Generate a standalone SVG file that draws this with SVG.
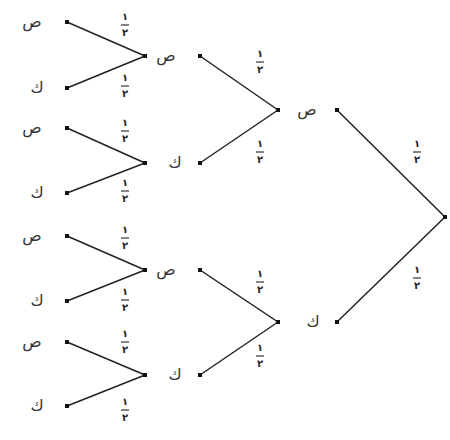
<svg xmlns="http://www.w3.org/2000/svg" width="450" height="440" viewBox="0 0 450 440">
<style>
.e{stroke:#222;stroke-width:1.5;fill:none}
.d{fill:#111}
.l{font-family:"DejaVu Sans",sans-serif;font-size:16px;fill:#333;text-anchor:middle}
.f{font-family:"DejaVu Sans",sans-serif;font-size:10px;font-weight:bold;fill:#222;text-anchor:middle}
.fl{stroke:#333;stroke-width:1.2}
</style>
<defs>
<g id="frac"><text class="f" x="0" y="-5">١</text><line class="fl" x1="-4" y1="0" x2="4" y2="0"/><text class="f" x="0" y="11">٢</text></g>
</defs>
<rect width="450" height="440" fill="#fff"/>
<g id="connectors">
<line class="e" x1="67" y1="22" x2="145" y2="56"/>
<line class="e" x1="67" y1="88" x2="145" y2="56"/>
<line class="e" x1="67" y1="128" x2="145" y2="163"/>
<line class="e" x1="67" y1="193" x2="145" y2="163"/>
<line class="e" x1="67" y1="236" x2="145" y2="270"/>
<line class="e" x1="67" y1="301" x2="145" y2="270"/>
<line class="e" x1="67" y1="342" x2="145" y2="375"/>
<line class="e" x1="67" y1="406" x2="145" y2="375"/>
<line class="e" x1="200" y1="56" x2="278" y2="110"/>
<line class="e" x1="200" y1="163" x2="278" y2="110"/>
<line class="e" x1="200" y1="270" x2="278" y2="322"/>
<line class="e" x1="200" y1="375" x2="278" y2="322"/>
<line class="e" x1="337" y1="110" x2="445" y2="217"/>
<line class="e" x1="337" y1="322" x2="445" y2="217"/>
</g>
<g id="fractions">
<use href="#frac" x="125" y="25"/>
<use href="#frac" x="125" y="86"/>
<use href="#frac" x="125" y="131"/>
<use href="#frac" x="125" y="191"/>
<use href="#frac" x="125" y="238"/>
<use href="#frac" x="125" y="300"/>
<use href="#frac" x="125" y="342"/>
<use href="#frac" x="125" y="410"/>
<use href="#frac" x="260" y="62"/>
<use href="#frac" x="260" y="152"/>
<use href="#frac" x="260" y="282"/>
<use href="#frac" x="260" y="356"/>
<use href="#frac" x="417" y="152"/>
<use href="#frac" x="417" y="278"/>
</g>
<g id="leaf1"><text class="l" x="32" y="27">ص</text><rect class="d" x="65" y="20" width="4" height="4"/></g>
<g id="leaf2"><text class="l" x="37" y="93">ك</text><rect class="d" x="65" y="86" width="4" height="4"/></g>
<g id="leaf3"><text class="l" x="32" y="133">ص</text><rect class="d" x="65" y="126" width="4" height="4"/></g>
<g id="leaf4"><text class="l" x="37" y="198">ك</text><rect class="d" x="65" y="191" width="4" height="4"/></g>
<g id="leaf5"><text class="l" x="32" y="241">ص</text><rect class="d" x="65" y="234" width="4" height="4"/></g>
<g id="leaf6"><text class="l" x="37" y="306">ك</text><rect class="d" x="65" y="299" width="4" height="4"/></g>
<g id="leaf7"><text class="l" x="32" y="347">ص</text><rect class="d" x="65" y="340" width="4" height="4"/></g>
<g id="leaf8"><text class="l" x="37" y="411">ك</text><rect class="d" x="65" y="404" width="4" height="4"/></g>
<g id="n2a"><rect class="d" x="143" y="54" width="4" height="4"/><text class="l" x="166" y="61">ص</text><rect class="d" x="198" y="54" width="4" height="4"/></g>
<g id="n2b"><rect class="d" x="143" y="161" width="4" height="4"/><text class="l" x="175" y="168">ك</text><rect class="d" x="198" y="161" width="4" height="4"/></g>
<g id="n2c"><rect class="d" x="143" y="268" width="4" height="4"/><text class="l" x="166" y="275">ص</text><rect class="d" x="198" y="268" width="4" height="4"/></g>
<g id="n2d"><rect class="d" x="143" y="373" width="4" height="4"/><text class="l" x="175" y="380">ك</text><rect class="d" x="198" y="373" width="4" height="4"/></g>
<g id="n1a"><rect class="d" x="276" y="108" width="4" height="4"/><text class="l" x="307" y="115">ص</text><rect class="d" x="335" y="108" width="4" height="4"/></g>
<g id="n1b"><rect class="d" x="276" y="320" width="4" height="4"/><text class="l" x="313" y="327">ك</text><rect class="d" x="335" y="320" width="4" height="4"/></g>
<g id="root"><rect class="d" x="443" y="215" width="4" height="4"/></g>
</svg>
